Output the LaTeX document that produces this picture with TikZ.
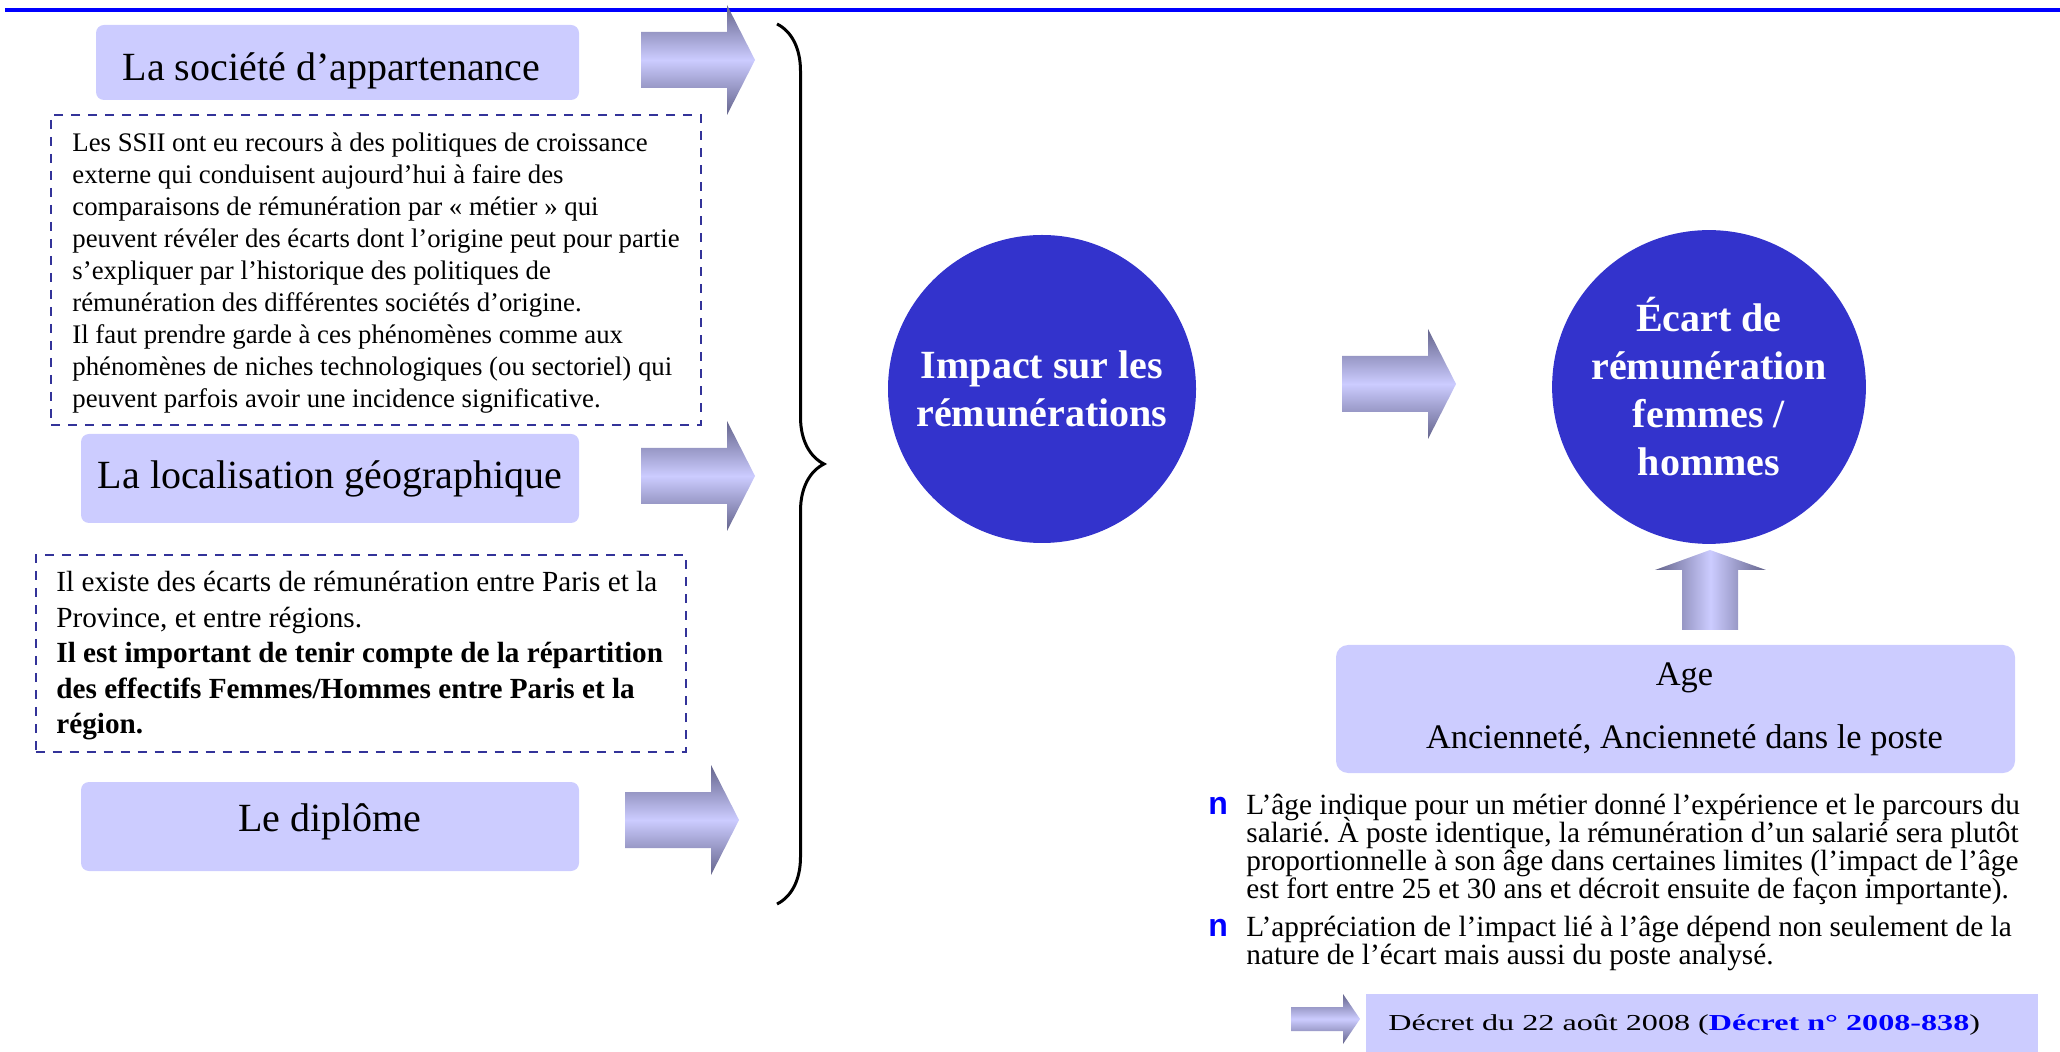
\documentclass[tikz,border=0pt]{standalone}
\usepackage{fontspec}
\usepackage{graphicx}
\setmainfont{Liberation Serif}
\newfontfamily\bulfont{Liberation Sans}
\usetikzlibrary{decorations.pathreplacing}
\definecolor{lavender}{RGB}{204,204,255}
\definecolor{dashblue}{RGB}{51,51,153}
\definecolor{discblue}{RGB}{51,51,204}
\definecolor{arrowdark}{RGB}{100,100,140}
\definecolor{rulesblue}{RGB}{0,0,255}
\tikzset{
  factor/.style={fill=lavender, rounded corners=4pt, minimum width=249pt,
    minimum height=44.5pt, inner sep=0pt, font=\fontsize{20}{24}\selectfont},
  note/.style={draw=dashblue, line width=1pt, dash pattern=on 4.5pt off 4pt,
    minimum width=325pt, inner sep=0pt},
  notetext/.style={anchor=base west, inner sep=0pt, align=flush left, text width=330pt},
  disc/.style={circle, fill=discblue, text=white, minimum size=154pt,
    align=center, font=\bfseries\fontsize{20}{24}\selectfont},
  hshade/.style={top color=arrowdark, bottom color=arrowdark, middle color=lavender},
  vshade/.style={left color=arrowdark, right color=arrowdark, middle color=lavender},
  rarrow/.pic={\path[hshade] (0,-28) -- (86,-28) -- (86,-55) -- (114,0)
    -- (86,55) -- (86,28) -- (0,28) -- cycle;}
}
\newcommand{\bul}{\makebox[19pt][l]{\bulfont\bfseries\fontsize{16}{14}\selectfont\textcolor{rulesblue}{n}}}
\newcommand{\ind}{\hspace*{19pt}}
\newcommand{\tight}{\lineskiplimit=-20pt\relax}

\begin{document}
\begin{tikzpicture}[x=0.5pt, y=-0.5pt]
  \useasboundingbox (0,0) rectangle (2060,1052);
  \draw [rulesblue, line width=2pt] (5,10) -- (2060,10);

  % left column
  \node [factor, minimum width=241.5pt, minimum height=37.5pt, text height=18.2pt, text depth=0pt]
    (soc) at (337.5,62.5) {La société d’appartenance\hspace*{6pt}};
  \node [note, minimum height=155pt] (noteA) at (376,270) {};
  \node [notetext, font=\fontsize{13.4}{16}\selectfont] (textA) at (72,152)
    {\tight Les SSII ont eu recours à des politiques de croissance\\
     externe qui conduisent aujourd’hui à faire des\\
     comparaisons de rémunération par « métier » qui\\
     peuvent révéler des écarts dont l’origine peut pour partie\\
     s’expliquer par l’historique des politiques de\\
     rémunération des différentes sociétés d’origine.\\
     Il faut prendre garde à ces phénomènes comme aux\\
     phénomènes de niches technologiques (ou sectoriel) qui\\
     peuvent parfois avoir une incidence significative.};
  \node [factor] (loc) at (330,478.5) {La localisation géographique};
  \node [note, minimum height=98.5pt] (noteB) at (360.5,653.5) {};
  \node [notetext, font=\fontsize{14.6}{17.75}\selectfont] (textB) at (56,592)
    {\tight Il existe des écarts de rémunération entre Paris et la\\
     Province, et entre régions.\\
     \textbf{Il est important de tenir compte de la répartition}\\
     \textbf{des effectifs Femmes/Hommes entre Paris et la}\\
     \textbf{région.}};
  \node [factor, text height=14.5pt, text depth=9.4pt] (dip) at (330,826.5) {Le diplôme};

  \foreach \x/\y in {641/60, 641/476, 625/820, 1342/384}
    \pic at (\x,\y) {rarrow};
  \draw [line width=1.5pt, decorate, decoration={brace, amplitude=23.5pt}] (777,24) -- (777,904);

  % discs
  \node [disc] (impact) at (1042,389) {Impact sur les\\rémunérations};
  \node [disc] (ecart) at (1709,387) {Écart de\\rémunération\\femmes /\\hommes};

  \path [vshade] (1682,630) -- (1682,570) -- (1655,570) -- (1710,550)
    -- (1766,570) -- (1738,570) -- (1738,630) -- cycle;
  \node [fill=lavender, rounded corners=6pt, minimum width=339.5pt, minimum height=64pt,
    align=center, font=\fontsize{17.2}{31.5}\selectfont] (age) at (1675.5,709)
    {\hspace*{9pt}Age\\\hspace*{9pt}Ancienneté, Ancienneté dans le poste};

  % bullets
  \node [anchor=base west, inner sep=0pt, align=flush left, text width=420pt,
    font=\fontsize{14.65}{14}\selectfont] (bul1) at (1208,814)
    {\tight\frenchspacing\bul L’âge indique pour un métier donné l’expérience et le parcours du\\
     \ind salarié. À poste identique, la rémunération d’un salarié sera plutôt\\
     \ind proportionnelle à son âge dans certaines limites (l’impact de l’âge\\
     \ind est fort entre 25 et 30 ans et décroit ensuite de façon importante).};
  \node [anchor=base west, inner sep=0pt, align=flush left, text width=420pt,
    font=\fontsize{14.65}{14}\selectfont] (bul2) at (1208,936)
    {\tight\bul L’appréciation de l’impact lié à l’âge dépend non seulement de la\\
     \ind nature de l’écart mais aussi du poste analysé.};

  \path [hshade] (1291,1007) -- (1343,1007) -- (1343,994) -- (1360,1019)
    -- (1343,1044) -- (1343,1031) -- (1291,1031) -- cycle;
  \node [fill=lavender, minimum width=336pt, minimum height=29pt, inner sep=0pt] (decret) at (1702,1023) {};
  \node [anchor=base west, inner sep=0pt, font=\fontsize{11.4}{13}\selectfont] (decrettext) at (1388,1030)
    {\scalebox{1.41}[1]{Décret du 22 août 2008 (\textcolor{rulesblue}{\bfseries Décret n° 2008-838})}};
\end{tikzpicture}
\end{document}
